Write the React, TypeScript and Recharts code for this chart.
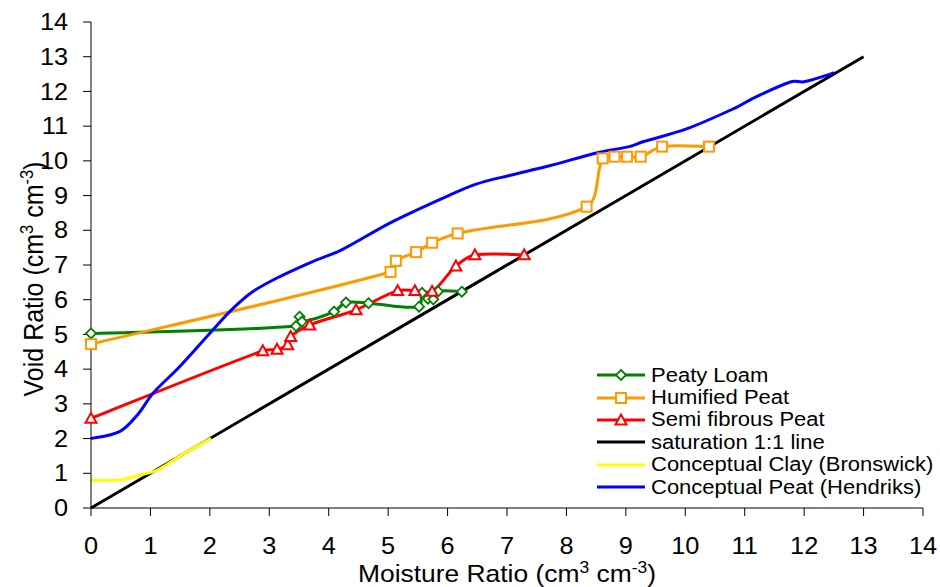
import React from "react";
import { LineChart, Line, XAxis, YAxis, Label, Legend } from "recharts";

// axis ticks (both axes run 0..14)
const axisTicks = [0, 1, 2, 3, 4, 5, 6, 7, 8, 9, 10, 11, 12, 13, 14];

// Peaty Loam
const peatyLoamX = [0, 3.45, 3.51, 3.55, 4.09, 4.29, 4.67, 5.52, 5.57, 5.67, 5.76, 5.84, 6.24];
const peatyLoamY = [5.03, 5.24, 5.51, 5.37, 5.66, 5.92, 5.9, 5.8, 6.2, 6.03, 6.01, 6.24, 6.23];

// Humified Peat
const humifiedX = [0, 5.04, 5.13, 5.47, 5.74, 6.17, 8.34, 8.61, 8.81, 9.02, 9.25, 9.61, 10.4];
const humifiedY = [4.72, 6.8, 7.12, 7.37, 7.64, 7.91, 8.68, 10.07, 10.12, 10.12, 10.12, 10.41, 10.41];

// Semi fibrous Peat
const semiFibrousX = [0, 2.89, 3.13, 3.31, 3.36, 3.68, 4.46, 5.16, 5.45, 5.74, 6.14, 6.46, 7.29];
const semiFibrousY = [2.58, 4.53, 4.57, 4.7, 4.94, 5.27, 5.71, 6.26, 6.26, 6.24, 6.97, 7.29, 7.29];

// saturation 1:1 line
const saturationX = [0, 13];
const saturationY = [0, 13];

// Conceptual Clay (Bronswick)
const clayX = [0, 0.5, 0.82, 1.1, 1.5, 2.02];
const clayY = [0.8, 0.81, 0.95, 1.08, 1.5, 2.01];

// Conceptual Peat (Hendriks)
const hendriksX = [0, 0.48, 0.79, 1.04, 1.49, 2.05, 2.39, 2.72, 3.17, 3.73, 4.21, 5.02, 5.98, 6.48, 7.04, 7.7, 8.56, 9.06, 9.29, 10.02, 10.86, 11.14, 11.78, 12.0, 12.51];
const hendriksY = [2.0, 2.2, 2.7, 3.3, 4.07, 5.13, 5.75, 6.23, 6.66, 7.1, 7.43, 8.2, 8.97, 9.33, 9.58, 9.85, 10.25, 10.41, 10.55, 10.92, 11.54, 11.8, 12.28, 12.28, 12.54];

const zip = (xs: number[], ys: number[]) => xs.map((x, i) => ({ x, y: ys[i] }));

const FONT = "'Liberation Sans', Arial, sans-serif";
const STRETCH = 1.1; // reference text is a little wider than the font

// spreadsheet-style smoothed line: catmull-rom with tangents scaled by chord length
function smoothCurve(context: any) {
  let pts: number[][] = [];
  const dist = (a: number[], b: number[]) => Math.hypot(b[0] - a[0], b[1] - a[1]);
  return {
    areaStart() {},
    areaEnd() {},
    lineStart() {
      pts = [];
    },
    point(x: number, y: number) {
      pts.push([+x, +y]);
    },
    lineEnd() {
      const n = pts.length;
      if (!n) return;
      context.moveTo(pts[0][0], pts[0][1]);
      for (let i = 0; i < n - 1; i++) {
        const p0 = pts[Math.max(i - 1, 0)];
        const p1 = pts[i];
        const p2 = pts[i + 1];
        const p3 = pts[Math.min(i + 2, n - 1)];
        const l01 = dist(p0, p1);
        const l12 = dist(p1, p2);
        const l23 = dist(p2, p3);
        const k1 = l01 + l12 > 0 ? l12 / (l01 + l12) / 3 : 0;
        const k2 = l12 + l23 > 0 ? l12 / (l12 + l23) / 3 : 0;
        const f1 = i === 0 ? 1 / 6 : k1;
        const f2 = i + 2 >= n ? 1 / 6 : k2;
        context.bezierCurveTo(
          p1[0] + (p2[0] - p0[0]) * f1,
          p1[1] + (p2[1] - p0[1]) * f1,
          p2[0] - (p3[0] - p1[0]) * f2,
          p2[1] - (p3[1] - p1[1]) * f2,
          p2[0],
          p2[1]
        );
      }
    },
  };
}

const Diamond = (props: any) => {
  const { cx, cy, index, stroke } = props;
  const r = 5;
  return (
    <path
      key={`dia-${index}`}
      d={`M${cx},${cy - r}L${cx + r},${cy}L${cx},${cy + r}L${cx - r},${cy}Z`}
      fill="#fff"
      stroke={stroke}
      strokeWidth={1.8}
    />
  );
};

const Square = (props: any) => {
  const { cx, cy, index, stroke } = props;
  const s = 5;
  return (
    <rect
      key={`sq-${index}`}
      x={cx - s}
      y={cy - s}
      width={s * 2}
      height={s * 2}
      fill="#fff"
      stroke={stroke}
      strokeWidth={2}
    />
  );
};

const Triangle = (props: any) => {
  const { cx, cy, index, stroke } = props;
  const r = 5.5;
  return (
    <path
      key={`tri-${index}`}
      d={`M${cx},${cy - r}L${cx + r},${cy + r * 0.8}L${cx - r},${cy + r * 0.8}Z`}
      fill="#fff"
      stroke={stroke}
      strokeWidth={2}
    />
  );
};

const series = [
  { name: "Peaty Loam", color: "#008000", data: zip(peatyLoamX, peatyLoamY), marker: Diamond },
  { name: "Humified Peat", color: "#FF9900", data: zip(humifiedX, humifiedY), marker: Square },
  { name: "Semi fibrous Peat", color: "#FF0000", data: zip(semiFibrousX, semiFibrousY), marker: Triangle },
  { name: "saturation 1:1 line", color: "#000000", data: zip(saturationX, saturationY), marker: null },
  { name: "Conceptual Clay (Bronswick)", color: "#FFFF00", data: zip(clayX, clayY), marker: null },
  { name: "Conceptual Peat (Hendriks)", color: "#0000FF", data: zip(hendriksX, hendriksY), marker: null },
];

const unitText = (fs: number) => (
  <>
    <tspan> (cm</tspan>
    <tspan dy={-9} fontSize={fs * 0.66}>3</tspan>
    <tspan dy={9}> cm</tspan>
    <tspan dy={-9} fontSize={fs * 0.66}>-3</tspan>
    <tspan dy={9}>)</tspan>
  </>
);

const XTitle = (props: any) => {
  const vb = props.viewBox || {};
  const cx = vb.x + vb.width / 2;
  return (
    <text
      transform={`translate(${cx}, 582) scale(${STRETCH}, 1)`}
      textAnchor="middle"
      fontSize={24}
      fontFamily={FONT}
      fill="#000"
    >
      Moisture Ratio{unitText(24)}
    </text>
  );
};

const YTitle = (props: any) => {
  const vb = props.viewBox || {};
  const cy = vb.y + vb.height / 2 + 14;
  return (
    <text
      transform={`translate(43, ${cy}) rotate(-90) scale(1, ${STRETCH})`}
      textAnchor="middle"
      fontSize={25}
      fontFamily={FONT}
      fill="#000"
    >
      Void Ratio{unitText(25)}
    </text>
  );
};

const XTick = (props: any) => {
  const { x, y, payload } = props;
  return (
    <text
      transform={`translate(${x}, ${y}) scale(${STRETCH}, 1)`}
      dy="0.71em"
      textAnchor="middle"
      fontSize={23}
      fontFamily={FONT}
      fill="#000"
    >
      {payload.value}
    </text>
  );
};

const YTick = (props: any) => {
  const { x, y, payload } = props;
  return (
    <text
      transform={`translate(${x}, ${y}) scale(${STRETCH}, 1)`}
      dy="0.355em"
      textAnchor="end"
      fontSize={23}
      fontFamily={FONT}
      fill="#000"
    >
      {payload.value}
    </text>
  );
};

const LegendBox = () => (
  <div style={{ fontFamily: FONT, fontSize: 20, color: "#000" }}>
    {series.map((s) => {
      const M = s.marker;
      return (
        <div key={s.name} style={{ display: "flex", alignItems: "center", height: 22.4, whiteSpace: "nowrap" }}>
          <svg width={54} height={22} style={{ display: "block", flex: "none" }}>
            <line x1={0} y1={11} x2={48} y2={11} stroke={s.color} strokeWidth={3} />
            {M ? <M cx={24} cy={11} index={0} stroke={s.color} /> : null}
          </svg>
          <span style={{ display: "inline-block", transform: `scaleX(${STRETCH})`, transformOrigin: "left center" }}>
            {s.name}
          </span>
        </div>
      );
    })}
  </div>
);

export default function App() {
  return (
    <div style={{ position: "relative", width: 940, height: 587, background: "#fff" }}>
      <style>{`body{margin:0}`}</style>
      <LineChart width={940} height={587} margin={{ top: 22, right: 17, bottom: 29, left: 31 }}>
        <XAxis
          dataKey="x"
          type="number"
          domain={[0, 14]}
          ticks={axisTicks}
          interval={0}
          height={50}
          tickSize={8}
          tickMargin={22}
          axisLine={{ stroke: "#000", strokeWidth: 1 }}
          tickLine={{ stroke: "#000", strokeWidth: 1 }}
          tick={<XTick />}
        >
          <Label content={<XTitle />} />
        </XAxis>
        <YAxis
          dataKey="y"
          type="number"
          domain={[0, 14]}
          ticks={axisTicks}
          interval={0}
          width={60}
          tickSize={8}
          tickMargin={15}
          axisLine={{ stroke: "#000", strokeWidth: 1 }}
          tickLine={{ stroke: "#000", strokeWidth: 1 }}
          tick={<YTick />}
        >
          <Label content={<YTitle />} />
        </YAxis>
        <Legend
          layout="vertical"
          align="center"
          verticalAlign="middle"
          content={<LegendBox />}
          wrapperStyle={{ left: 597, top: 364, width: "auto" }}
        />
        {series.map((s) => (
          <Line
            key={s.name}
            name={s.name}
            data={s.data}
            dataKey="y"
            type={smoothCurve as any}
            stroke={s.color}
            strokeWidth={3}
            dot={s.marker ? (p: any) => <s.marker {...p} stroke={s.color} /> : false}
            activeDot={false}
            isAnimationActive={false}
          />
        ))}
      </LineChart>
    </div>
  );
}
